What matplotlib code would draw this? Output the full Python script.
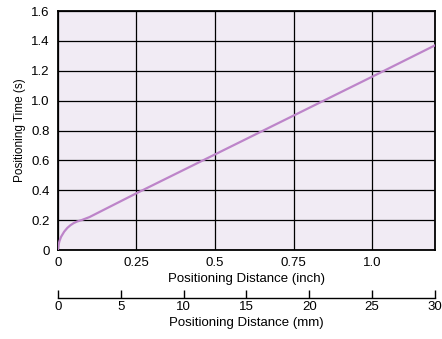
import matplotlib.pyplot as plt
import numpy as np

plt.rcParams['font.family'] = ['Liberation Sans', 'DejaVu Sans']

# positioning distance (inch) and positioning time (s)
dist_in = [0, 0.002, 0.005, 0.01, 0.02, 0.03, 0.04, 0.05, 0.06, 0.075, 0.1, 0.25, 0.5, 0.75, 1.0, 1.2]
time_s = [0, 0.035, 0.06, 0.088, 0.123, 0.148, 0.166, 0.180, 0.190, 0.200, 0.220, 0.380, 0.640, 0.900, 1.160, 1.370]

inch_ticks = [0, 0.25, 0.5, 0.75, 1.0]
inch_labels = ['0', '0.25', '0.5', '0.75', '1.0']
time_ticks = [0, 0.2, 0.4, 0.6, 0.8, 1.0, 1.2, 1.4, 1.6]
time_labels = ['0', '0.2', '0.4', '0.6', '0.8', '1.0', '1.2', '1.4', '1.6']
mm_ticks = [0, 5, 10, 15, 20, 25, 30]

fig = plt.figure(figsize=(4.42, 3.39), dpi=100)
ax = fig.add_axes([0.131, 0.2625, 0.853, 0.705])
ax.set_facecolor('#f1ebf4')
ax.plot(dist_in, time_s, color='#bd84c9', lw=1.6, solid_capstyle='round', zorder=3)
ax.set_xlim(0, 1.2)
ax.set_ylim(0, 1.6)
ax.set_xticks(inch_ticks)
ax.set_xticklabels(inch_labels)
ax.set_yticks(time_ticks)
ax.set_yticklabels(time_labels)
ax.grid(True, color='black', lw=0.9)
ax.tick_params(axis='x', length=0, labelsize=9.5, pad=5)
ax.tick_params(axis='y', length=0, labelsize=9.5, pad=6)
for s in ax.spines.values():
    s.set_linewidth(1.3)
ax.set_xlabel('Positioning Distance (inch)', fontsize=9.5, labelpad=3)
ax.set_ylabel('Positioning Time (s)', fontsize=8.5, labelpad=4)

# second scale in mm
ax2 = fig.add_axes([0.131, 0.121, 0.853, 0.0])
ax2.set_xlim(0, 30)
ax2.set_yticks([])
for k in ['top', 'left', 'right']:
    ax2.spines[k].set_visible(False)
ax2.spines['bottom'].set_linewidth(1.0)
ax2.set_xticks(mm_ticks)
ax2.tick_params(axis='x', direction='in', length=6, width=1.0, labelsize=9.5, pad=2)
ax2.set_xlabel('Positioning Distance (mm)', fontsize=9.5, labelpad=3)

fig.savefig('out.png', dpi=100)
